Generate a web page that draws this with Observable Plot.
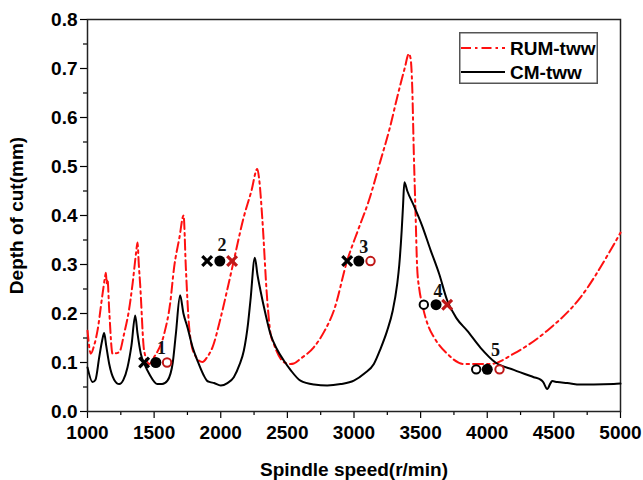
<!DOCTYPE html>
<html>
<head>
<meta charset="utf-8">
<script src="https://cdn.jsdelivr.net/npm/d3@7"></script>
<script src="https://cdn.jsdelivr.net/npm/@observablehq/plot@0.6"></script>
<style>
  html, body { margin: 0; padding: 0; background: #fff; }
  #wrap { position: relative; width: 643px; height: 480px; }
  #legend { position: absolute; left: 459px; top: 32px; }
</style>
</head>
<body>
<div id="wrap"><div id="chart"></div><div id="legend"></div></div>
<script>
// RUM-tww (red dash-dot)
const rumSpeed = [1000,1025,1050,1075,1113,1132,1138,1144,1150,1163,1188,1238,1275,1310,1338,1365,1375,1385,1395,1425,1463,1500,1575,1620,1650,1690,1721,1738,1763,1800,1863,1898,1938,2000,2050,2098,2173,2230,2274,2290,2311,2349,2373,2398,2473,2523,2548,2600,2698,2780,2849,2949,3030,3111,3199,3270,3324,3380,3412,3425,3437,3449,3462,3474,3490,3511,3561,3599,3699,3824,4024,4199,4450,4700,4925,5000];
const rumDepth = [0.165,0.118,0.135,0.165,0.24,0.275,0.283,0.262,0.27,0.206,0.118,0.121,0.159,0.205,0.26,0.325,0.345,0.3,0.26,0.124,0.097,0.111,0.158,0.22,0.294,0.355,0.4,0.294,0.172,0.118,0.101,0.111,0.131,0.192,0.25,0.308,0.397,0.45,0.495,0.47,0.397,0.227,0.16,0.138,0.101,0.097,0.098,0.108,0.131,0.165,0.206,0.308,0.37,0.43,0.512,0.58,0.641,0.7,0.73,0.72,0.662,0.526,0.404,0.294,0.25,0.22,0.172,0.152,0.118,0.097,0.097,0.118,0.165,0.233,0.329,0.365];
// CM-tww (black solid)
const cmSpeed = [1000,1038,1060,1088,1110,1125,1140,1163,1200,1238,1270,1300,1330,1358,1375,1400,1430,1463,1525,1560,1600,1640,1663,1695,1720,1750,1790,1825,1870,1900,1920,1950,2000,2050,2098,2140,2173,2205,2223,2256,2275,2298,2335,2373,2420,2473,2523,2598,2700,2799,2900,2999,3080,3149,3199,3249,3290,3324,3340,3358,3368,3378,3400,3449,3510,3574,3640,3699,3770,3849,3950,4062,4199,4349,4400,4420,4450,4475,4487,4525,4600,4700,4800,4950,5000];
const cmDepth = [0.09,0.06,0.065,0.111,0.145,0.16,0.135,0.097,0.065,0.056,0.065,0.09,0.135,0.196,0.16,0.118,0.095,0.077,0.056,0.056,0.063,0.1,0.158,0.237,0.2,0.172,0.13,0.104,0.075,0.062,0.06,0.058,0.053,0.058,0.07,0.095,0.124,0.18,0.227,0.314,0.28,0.247,0.2,0.158,0.128,0.104,0.085,0.063,0.055,0.053,0.056,0.063,0.078,0.097,0.128,0.165,0.205,0.26,0.3,0.37,0.42,0.468,0.45,0.42,0.38,0.33,0.28,0.227,0.19,0.165,0.13,0.1,0.085,0.07,0.065,0.06,0.046,0.058,0.062,0.06,0.058,0.055,0.055,0.056,0.057];

// Test points: speed, depth, marker kind
const ptSpeed = [1425,1513,1597, 1898,1993,2085, 2949,3036,3124, 3524,3616,3699, 3917,4000,4092];
const ptDepth = [0.1,0.1,0.1, 0.307,0.307,0.307, 0.307,0.307,0.307, 0.218,0.218,0.218, 0.086,0.086,0.086];
const ptKind  = ["bx","bf","ro", "bx","bf","rx", "bx","bf","ro", "bo","bf","rx", "bo","bf","ro"];
// Point labels
const lblText  = ["1","2","3","4","5"];
const lblSpeed = [1555,2010,3074,3631,4062];
const lblDepth = [0.13,0.34,0.336,0.245,0.126];

const xTicks = [1000,1500,2000,2500,3000,3500,4000,4500,5000];
const yTicks = [0,0.1,0.2,0.3,0.4,0.5,0.6,0.7,0.8];

const rum = rumSpeed.map((x,i)=>({x, y: rumDepth[i]}));
const cm = cmSpeed.map((x,i)=>({x, y: cmDepth[i]}));
const pts = ptSpeed.map((x,i)=>({x, y: ptDepth[i], k: ptKind[i]}));
const lbls = lblText.map((t,i)=>({t, x: lblSpeed[i], y: lblDepth[i]}));

const RED = "#ff1010", DRED = "#c01818";
const font = "'Liberation Sans', Arial, sans-serif";

const chart = Plot.plot({
  width: 643, height: 480,
  marginLeft: 87, marginRight: 23, marginTop: 19, marginBottom: 69,
  style: {fontFamily: font, fontWeight: "bold", fontSize: "19px", background: "#fff", color: "#000"},
  x: {domain: [1000,5000]},
  y: {domain: [0,0.8]},
  marks: [
    Plot.axisX({ticks: d3.range(1250,5000,500), tickSize: 4, text: null, label: null, strokeWidth: 1.2}),
    Plot.axisY({ticks: d3.range(0.05,0.8,0.1), tickSize: 4, text: null, label: null, strokeWidth: 1.2}),
    Plot.axisX({ticks: xTicks, tickSize: 7, tickPadding: 7, tickFormat: d3.format("d"), fontSize: 19, strokeWidth: 1.2,
      label: "Spindle speed(r/min)", labelAnchor: "center", labelArrow: "none", labelOffset: 64}),
    Plot.axisY({ticks: yTicks, tickSize: 7, tickPadding: 3, tickFormat: d3.format(".1f"), fontSize: 19, strokeWidth: 1.2,
      label: "Depth of cut(mm)", labelAnchor: "center", labelArrow: "none", labelOffset: 78}),
    Plot.frame({stroke: "#222", strokeWidth: 1.5}),
    Plot.line(rum, {x: "x", y: "y", stroke: RED, strokeWidth: 2, strokeDasharray: "10,4,2.5,4", curve: "monotone-x"}),
    Plot.line(cm, {x: "x", y: "y", stroke: "#000", strokeWidth: 2, curve: "monotone-x"}),
    Plot.dot(pts.filter(d=>d.k==="bx"), {x:"x", y:"y", symbol: "times", r: 4.5, stroke: "#000", strokeWidth: 3.2}),
    Plot.dot(pts.filter(d=>d.k==="rx"), {x:"x", y:"y", symbol: "times", r: 4.5, stroke: DRED, strokeWidth: 3.2}),
    Plot.dot(pts.filter(d=>d.k==="bf"), {x:"x", y:"y", r: 5.5, fill: "#000"}),
    Plot.dot(pts.filter(d=>d.k==="ro"), {x:"x", y:"y", r: 4.2, fill: "#fff", stroke: DRED, strokeWidth: 2}),
    Plot.dot(pts.filter(d=>d.k==="bo"), {x:"x", y:"y", r: 4.2, fill: "#fff", stroke: "#000", strokeWidth: 2}),
    Plot.text(lbls, {x:"x", y:"y", text:"t", fontFamily: "'Liberation Serif', 'Times New Roman', serif", fontWeight: "bold", fontSize: 18, fill: "#111"})
  ]
});
document.getElementById("chart").appendChild(chart);

// legend
const legendItems = [
  {name: "RUM-tww", stroke: RED, dash: "10,4,2.5,4"},
  {name: "CM-tww", stroke: "#000", dash: null}
];
const lw = 139, lh = 52;
const lsvg = d3.select("#legend").append("svg").attr("width", lw).attr("height", lh);
lsvg.append("rect").attr("x",0.75).attr("y",0.75).attr("width",lw-1.5).attr("height",lh-1.5)
  .attr("fill","#fff").attr("stroke","#555").attr("stroke-width",1.5);
legendItems.forEach((it,i)=>{
  const cy = 16 + i*24;
  lsvg.append("line").attr("x1",2).attr("x2",46).attr("y1",cy).attr("y2",cy)
    .attr("stroke",it.stroke).attr("stroke-width",2).attr("stroke-dasharray",it.dash);
  lsvg.append("text").attr("x",51).attr("y",cy).attr("dy","0.35em")
    .attr("font-family",font).attr("font-weight","bold").attr("font-size",19).text(it.name);
});
</script>
</body>
</html>
